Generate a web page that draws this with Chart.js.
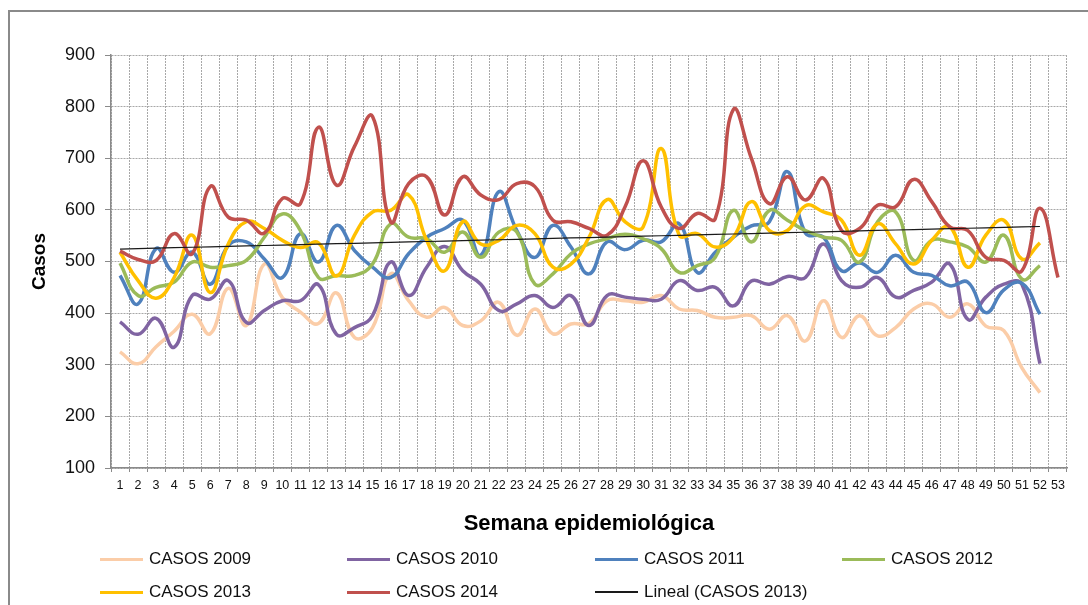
<!DOCTYPE html>
<html>
<head>
<meta charset="utf-8">
<script src="https://cdn.jsdelivr.net/npm/chart.js@4.4.1/dist/chart.umd.min.js"></script>
<style>
  html, body { margin: 0; padding: 0; background: #fff; overflow: hidden; }
  #wrap { position: relative; width: 1088px; height: 605px; }
  #frame { position: absolute; left: 8px; top: 10px; width: 1100px; height: 620px; border: 2px solid #8a8a8a; box-sizing: border-box; }
  #chart { position: absolute; left: 0; top: 0; }
  .leg { position: absolute; display: flex; align-items: center; font: 17px 'Liberation Sans', Arial, sans-serif; color: #111; white-space: nowrap; }
  .leg span.s { display: inline-block; width: 43px; margin-right: 6px; }
</style>
</head>
<body>
<div id="wrap">
  <div id="frame"></div>
  <canvas id="chart" width="1088" height="605"></canvas>
  <div id="legend"></div>
</div>
<script>
// semanas 1..53
const weeks = Array.from({ length: 53 }, (_, i) => String(i + 1));
const yTicks = [100, 200, 300, 400, 500, 600, 700, 800, 900];

const cases2009 = [325, 302, 335, 365, 398, 360, 448, 376, 495, 430, 402, 380, 439, 353, 372, 476, 424, 392, 411, 376,
  385, 421, 357, 408, 360, 379, 380, 424, 424, 421, 434, 408, 405, 392, 392, 395, 369, 395, 346, 424,
  353, 395, 356, 372, 408, 418, 392, 418, 375, 366, 294, 246];
const cases2010 = [383, 359, 390, 334, 434, 427, 463, 382, 405, 424, 424, 455, 359, 372, 395, 499, 434, 489, 529, 482,
  456, 405, 418, 434, 411, 434, 376, 434, 431, 427, 427, 463, 444, 450, 414, 462, 456, 471, 469, 534,
  463, 450, 469, 431, 444, 460, 495, 388, 431, 456, 456, 302];
const cases2011 = [473, 418, 525, 479, 518, 456, 531, 538, 505, 469, 554, 499, 570, 521, 489, 469, 515, 547, 564, 580,
  512, 635, 560, 508, 570, 528, 476, 538, 523, 541, 538, 573, 479, 518, 547, 569, 577, 674, 555, 547,
  482, 497, 479, 512, 479, 473, 453, 460, 401, 445, 458, 398];
const cases2012 = [497, 434, 450, 460, 499, 489, 492, 502, 547, 592, 560, 469, 473, 473, 495, 573, 547, 544, 518, 557,
  508, 557, 557, 456, 476, 515, 534, 544, 553, 544, 525, 479, 492, 508, 599, 538, 599, 580, 560, 547,
  541, 499, 577, 596, 502, 541, 538, 528, 499, 551, 466, 492];
const cases2013 = [518, 463, 429, 469, 551, 440, 534, 577, 564, 541, 527, 536, 472, 551, 596, 599, 629, 541, 482, 577,
  534, 541, 570, 554, 489, 495, 547, 620, 577, 567, 719, 551, 554, 528, 547, 616, 560, 560, 608, 596,
  580, 512, 573, 534, 495, 541, 567, 489, 551, 580, 505, 536];
const cases2014 = [520, 504, 502, 554, 515, 645, 586, 580, 555, 622, 612, 760, 648, 723, 781, 577, 651, 664, 590, 664,
  629, 620, 651, 645, 580, 577, 564, 551, 606, 695, 606, 564, 593, 583, 794, 700, 612, 664, 619, 661,
  560, 564, 609, 606, 659, 616, 567, 560, 508, 502, 482, 603, 469];

// tendencia lineal (minimos cuadrados) de CASOS 2013, como en Excel
function linearTrend(values) {
  const n = values.length;
  let sx = 0, sy = 0, sxy = 0, sxx = 0;
  values.forEach((v, i) => { const x = i + 1; sx += x; sy += v; sxy += x * v; sxx += x * x; });
  const b = (n * sxy - sx * sy) / (n * sxx - sx * sx);
  const a = (sy - b * sx) / n;
  return values.map((_, i) => a + b * (i + 1));
}
const trend2013 = linearTrend(cases2013);

const series = [
  { label: 'CASOS 2009', data: cases2009, color: '#fbcda8', order: 6 },
  { label: 'CASOS 2010', data: cases2010, color: '#8064a2', order: 5 },
  { label: 'CASOS 2011', data: cases2011, color: '#4f81bd', order: 4 },
  { label: 'CASOS 2012', data: cases2012, color: '#9bbb59', order: 3 },
  { label: 'CASOS 2013', data: cases2013, color: '#ffc000', order: 2 },
  { label: 'CASOS 2014', data: cases2014, color: '#c0504d', order: 1 }
];

const datasets = series.map(s => ({
  label: s.label,
  data: s.data,
  borderColor: s.color,
  backgroundColor: s.color,
  borderWidth: 3.5,
  pointRadius: 0,
  tension: 0.45,
  fill: false,
  order: s.order
}));
datasets.push({
  label: 'Lineal (CASOS 2013)',
  data: trend2013,
  borderColor: '#1a1a1a',
  backgroundColor: '#1a1a1a',
  borderWidth: 1.2,
  pointRadius: 0,
  tension: 0,
  fill: false,
  order: 0
});

const gridColor = '#a8a8a8';

const chart = new Chart(document.getElementById('chart'), {
  type: 'line',
  data: { labels: weeks, datasets: datasets },
  options: {
    responsive: false,
    animation: false,
    layout: { padding: { left: 12, right: 21, top: 55, bottom: 65 } },
    plugins: { legend: { display: false }, tooltip: { enabled: false } },
    scales: {
      x: {
        offset: true,
        grid: {
          offset: true,
          color: gridColor,
          tickColor: '#8a8a8a',
          tickLength: 4
        },
        border: { color: '#8a8a8a', width: 1.5, dash: [2, 1] },
        ticks: {
          autoSkip: false,
          maxRotation: 0,
          minRotation: 0,
          padding: 6,
          color: '#111',
          font: { family: "'Liberation Sans', Arial, sans-serif", size: 12.5 }
        },
        title: {
          display: true,
          text: 'Semana epidemiológica',
          color: '#000',
          padding: { top: 0, bottom: 3 },
          font: { family: "'Liberation Sans', Arial, sans-serif", size: 22, weight: 'bold' }
        },
        afterFit: scale => { scale.height = 72; }
      },
      y: {
        min: 100,
        max: 900,
        afterBuildTicks: scale => { scale.ticks = yTicks.map(v => ({ value: v })); },
        grid: {
          color: gridColor,
          tickColor: '#8a8a8a',
          tickLength: 6
        },
        border: { color: '#8a8a8a', width: 1.5, dash: [2, 1] },
        ticks: {
          padding: 10,
          color: '#111',
          font: { family: "'Liberation Sans', Arial, sans-serif", size: 18 }
        },
        title: {
          display: true,
          text: 'Casos',
          color: '#000',
          padding: { top: 16, bottom: 0 },
          font: { family: "'Liberation Sans', Arial, sans-serif", size: 19, weight: 'bold' }
        },
        afterFit: scale => { scale.width = 99; }
      }
    }
  }
});

// leyenda en cuadricula, como en Excel
const legendBox = document.getElementById('legend');
const colX = [100, 347, 595, 842];
const rowY = [559, 592];
chart.data.datasets.forEach((ds, i) => {
  const item = document.createElement('div');
  item.className = 'leg';
  item.style.left = colX[i % 4] + 'px';
  item.style.top = (rowY[Math.floor(i / 4)] - 11) + 'px';
  item.style.height = '22px';
  const sw = document.createElement('span');
  sw.className = 's';
  sw.style.height = ds.borderWidth > 2 ? '3px' : '1.5px';
  sw.style.background = ds.borderColor;
  item.appendChild(sw);
  item.appendChild(document.createTextNode(ds.label));
  legendBox.appendChild(item);
});
</script>
</body>
</html>
